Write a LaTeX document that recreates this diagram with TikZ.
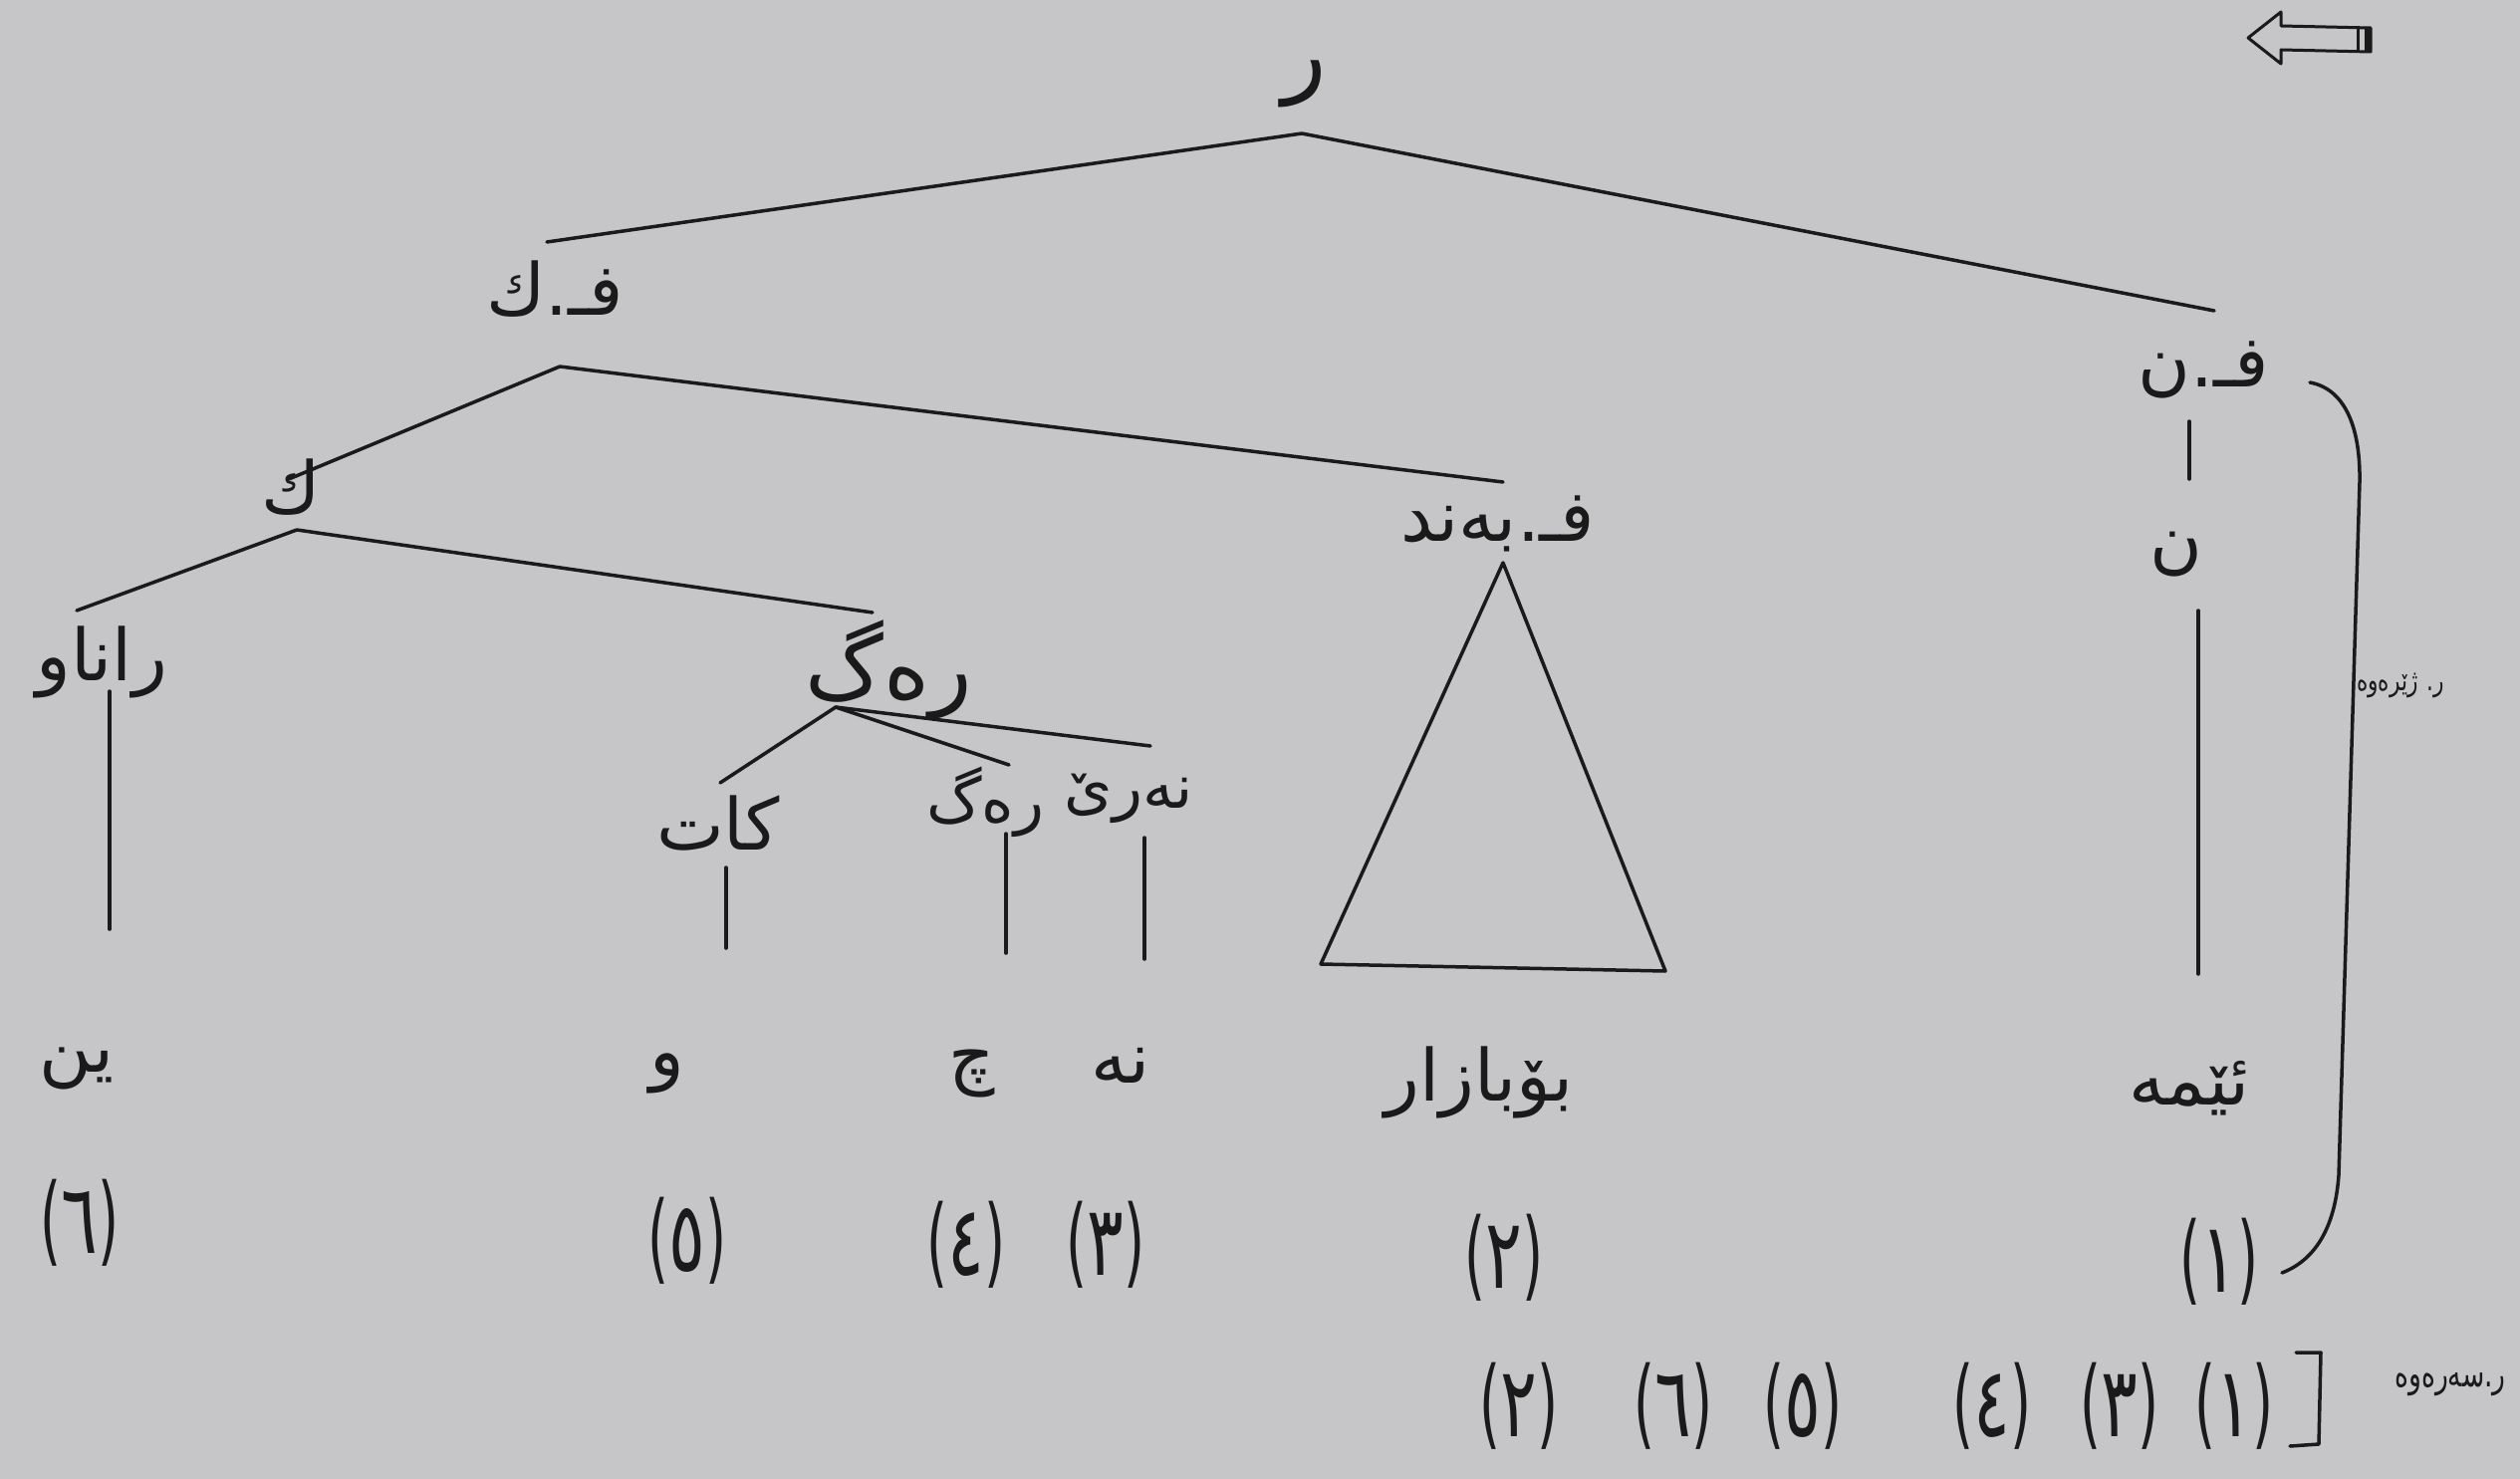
\documentclass[tikz,border=0pt]{standalone}
\usepackage{fontspec}
\usepackage{graphicx}
\TeXXeTstate=1
\newfontfamily\arabicfont[Script=Arabic]{DejaVu Sans}
\newfontfamily\parenfont{DejaVu Sans}
\definecolor{bg}{RGB}{198,198,200}
\definecolor{ink}{RGB}{26,26,26}
\newcommand\kutxt[1]{\beginR #1\endR}
\newcommand\numtxt[1]{\scalebox{0.55}[1]{\parenfont(}\scalebox{0.7}[1]{#1}\scalebox{0.55}[1]{\parenfont)}}
\tikzset{
  lbl/.style={inner sep=0pt, text=ink, font=\arabicfont\fontsize{72}{80}\selectfont},
  big/.style={inner sep=0pt, text=ink, font=\arabicfont\fontsize{92}{100}\selectfont},
  mid/.style={inner sep=0pt, text=ink, font=\arabicfont\fontsize{88}{96}\selectfont},
  small/.style={inner sep=0pt, text=ink, font=\arabicfont\fontsize{62}{70}\selectfont},
  tiny/.style={inner sep=0pt, text=ink, font=\arabicfont\fontsize{30}{34}\selectfont},
  num/.style={inner sep=0pt, text=ink, font=\arabicfont\fontsize{98}{104}\selectfont},
  edge/.style={draw=ink, line width=3.5pt, line cap=round, line join=round},
}
\begin{document}
\begin{tikzpicture}[x=1pt,y=-1pt]
\fill[bg] (0,0) rectangle (2530,1485);
\useasboundingbox (0,0) rectangle (2530,1485);

% ---- labels ----
\node[big] (r) at (1310,84) {\kutxt{ر}};
\node[lbl] (fk) at (557,290) {\kutxt{فـ.ك}};
\node[lbl] (fn) at (2212,371) {\kutxt{فـ.ن}};
\node[lbl] (k) at (292,489) {\kutxt{ك}};
\node[lbl] (fb) at (1504,526) {\kutxt{فـ.بەند}};
\node[lbl] (n) at (2185,557) {\kutxt{ن}};
\node[lbl] (ranaw) at (102,665) {\kutxt{راناو}};
\node[mid] (reg) at (892,673) {\kutxt{رەگ}};
\node[lbl] (kat) at (721,826) {\kutxt{کات}};
\node[small] (reg2) at (989,805) {\kutxt{رەگ}};
\node[small] (nere) at (1133,802) {\kutxt{نەرێ}};

\node[lbl] (w6) at (77,1073) {\kutxt{ین}};
\node[lbl] (w5) at (670,1078) {\kutxt{و}};
\node[lbl] (w4) at (976,1078) {\kutxt{چ}};
\node[lbl] (w3) at (1125,1070) {\kutxt{نە}};
\node[lbl] (w2) at (1485,1087) {\kutxt{بۆبازار}};
\node[lbl] (w1) at (2198,1093) {\kutxt{ئێمە}};

\node[num] (n6) at (80,1228) {\numtxt{٦}};
\node[num] (n5) at (690,1246) {\numtxt{٥}};
\node[num] (n4) at (970,1250) {\numtxt{٤}};
\node[num] (n3) at (1110,1250) {\numtxt{٣}};
\node[num] (n2) at (1510,1263) {\numtxt{٢}};
\node[num] (n1) at (2228,1267) {\numtxt{١}};

\node[num] (b2) at (1525,1412) {\numtxt{٢}};
\node[num] (b6) at (1680,1412) {\numtxt{٦}};
\node[num] (b5) at (1810,1412) {\numtxt{٥}};
\node[num] (b4) at (2000,1412) {\numtxt{٤}};
\node[num] (b3) at (2128,1412) {\numtxt{٣}};
\node[num] (b1) at (2243,1412) {\numtxt{١}};

\node[tiny] (deep) at (2410,688) {\scalebox{0.72}[1]{\kutxt{ر. ژێرەوە}}};
\node[tiny, font=\arabicfont\fontsize{38}{42}\selectfont] (surf) at (2460,1390) {\scalebox{0.7}[1]{\kutxt{ر.سەرەوە}}};

% ---- tree coordinates ----
\coordinate (rA) at (1307,134);
\coordinate (rL) at (549,243);
\coordinate (rR) at (2223,312);
\coordinate (fkA) at (562,368);
\coordinate (fkL) at (290,481);
\coordinate (fkR) at (1509,484);
\coordinate (kA) at (298,532);
\coordinate (kL) at (77,613);
\coordinate (kR) at (876,615);
\coordinate (regA) at (839,710);
\coordinate (regL) at (723,786);
\coordinate (regM) at (1013,768);
\coordinate (regR) at (1155,749);
\coordinate (v6t) at (110,694);   \coordinate (v6b) at (110,933);
\coordinate (v5t) at (729,871);   \coordinate (v5b) at (729,952);
\coordinate (v4t) at (1010,837);  \coordinate (v4b) at (1010,957);
\coordinate (v3t) at (1149,841);  \coordinate (v3b) at (1149,963);
\coordinate (fnt) at (2198,423);  \coordinate (fnb) at (2198,481);
\coordinate (nt) at (2207,613);   \coordinate (nb) at (2207,978);
\coordinate (triA) at (1509,565);
\coordinate (triL) at (1326,968);
\coordinate (triR) at (1672,975);

\draw[edge] (rL) -- (rA) -- (rR);
\draw[edge] (fkL) -- (fkA) -- (fkR);
\draw[edge] (kL) -- (kA) -- (kR);
\draw[edge] (regL) -- (regA) -- (regM);
\draw[edge] (regA) -- (regR);
\draw[edge] (v6t) -- (v6b);
\draw[edge] (v5t) -- (v5b);
\draw[edge] (v4t) -- (v4b);
\draw[edge] (v3t) -- (v3b);
\draw[edge] (fnt) -- (fnb);
\draw[edge] (nt) -- (nb);
\draw[edge] (triA) -- (triL) -- (triR) -- cycle;

% ---- right curved bracket ----
\coordinate (brT) at (2319,384);
\coordinate (brU) at (2369,484);
\coordinate (brD) at (2348,1180);
\coordinate (brB) at (2291,1278);
\draw[edge] (brT) .. controls (2352,390) and (2370,425) .. (brU) -- (brD) .. controls (2344,1236) and (2322,1266) .. (brB);

% ---- bottom square bracket ----
\coordinate (sq1) at (2305,1358);
\coordinate (sq2) at (2330,1358);
\coordinate (sq3) at (2328,1450);
\coordinate (sq4) at (2299,1452);
\draw[edge] (sq1) -- (sq2) -- (sq3) -- (sq4);

% ---- outline arrow top right ----
\coordinate (arT) at (2257,38);
\draw[draw=ink, line width=3pt, line join=round] (arT) -- (2290,12) -- (2290,26) -- (2380,28) -- (2380,52) -- (2290,50) -- (2290,64) -- cycle;
\coordinate (bar1t) at (2367,27); \coordinate (bar1b) at (2367,51);
\draw[draw=ink, line width=3pt] (bar1t) -- (bar1b);
\coordinate (bar2t) at (2377,28); \coordinate (bar2b) at (2377,52);
\draw[draw=ink, line width=6pt] (bar2t) -- (bar2b);
\end{tikzpicture}
\end{document}
